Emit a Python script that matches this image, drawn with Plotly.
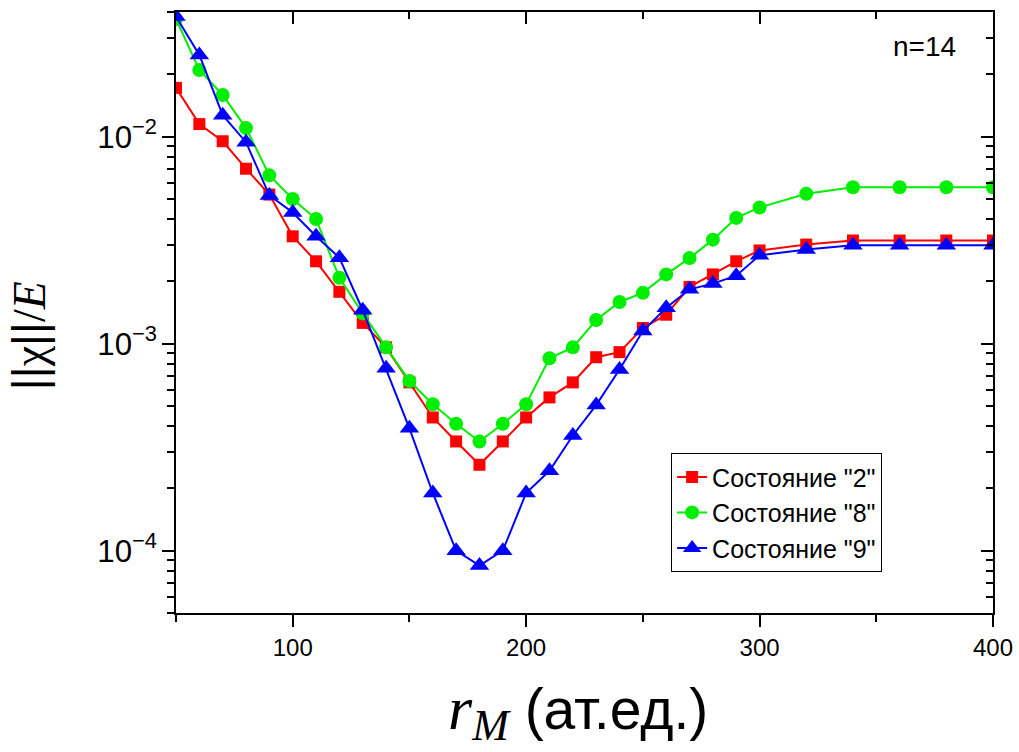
import numpy as np
import plotly.graph_objects as go

# Matching radius r_M (atomic units)
r_m = [50, 60, 70, 80, 90, 100, 110, 120, 130, 140, 150, 160, 170, 180, 190,
       200, 210, 220, 230, 240, 250, 260, 270, 280, 290, 300,
       320, 340, 360, 380, 400]

# Relative residual norm ||chi||/E for each state
state_2 = [0.0172, 0.0115, 0.0095, 0.0070, 0.00525, 0.0033, 0.0025, 0.00178, 0.00126,
           0.00096, 0.00065, 0.00044, 0.000337, 0.00026, 0.000337,
           0.00044, 0.00055, 0.00065, 0.00086, 0.00091, 0.00119, 0.00138, 0.00188,
           0.00216, 0.0025, 0.00282,
           0.00301, 0.00315, 0.00315, 0.00315, 0.00315]
state_8 = [0.037, 0.021, 0.0159, 0.0110, 0.0065, 0.0050, 0.0040, 0.00208, 0.00140,
           0.00096, 0.00066, 0.00051, 0.00041, 0.000337, 0.00041,
           0.00051, 0.00085, 0.00096, 0.0013, 0.00159, 0.00176, 0.00216, 0.00259,
           0.00318, 0.00405, 0.00455,
           0.0053, 0.0057, 0.0057, 0.0057, 0.0057]
state_9 = [0.038, 0.0248, 0.0127, 0.0094, 0.0052, 0.0043, 0.0033, 0.0026, 0.00145,
           0.00076, 0.00039, 0.00019, 0.000100, 0.0000848, 0.000100,
           0.00019, 0.000243, 0.00036, 0.000505, 0.00075, 0.00115, 0.00149, 0.00183,
           0.00195, 0.00213, 0.00267,
           0.00285, 0.00299, 0.00299, 0.00299, 0.00299]

series = [
    ('Состояние "2"', state_2, "#FF0000", "square", 12),
    ('Состояние "8"', state_8, "#00EE00", "circle", 14),
    ('Состояние "9"', state_9, "#0000FF", "triangle-up", 17),
]

x_range = [50, 400]
y_range = [5e-5, 0.04]
log_range = [float(np.log10(y_range[0])), float(np.log10(y_range[1]))]

SANS = "Liberation Sans, Arial, sans-serif"
SERIF = "Liberation Serif, Times New Roman, serif"

fig = go.Figure()
for i, (name, vals, color, symbol, size) in enumerate(series):
    fig.add_trace(go.Scatter(
        x=r_m, y=vals, name=name, mode="lines+markers",
        legendgroup=f"g{i}",
        line=dict(color=color, width=2),
        marker=dict(symbol=symbol, size=size, color=color, line=dict(width=0)),
    ))

# Invisible companion trace so the top/right frame axes (inward ticks) are rendered
fig.add_trace(go.Scatter(
    x=r_m, y=state_2, xaxis="x2", yaxis="y2", mode="markers",
    marker=dict(opacity=0), showlegend=False, hoverinfo="skip",
))

axis_common = dict(showgrid=False, zeroline=False, showline=True,
                   linecolor="black", linewidth=2, tickcolor="black")

fig.update_layout(
    width=1019, height=752,
    margin=dict(l=176, r=26, t=12, b=139, autoexpand=False),
    paper_bgcolor="white", plot_bgcolor="white",
    font=dict(family=SANS, color="black"),
    xaxis=dict(range=x_range, dtick=100, tick0=0, ticks="outside",
               ticklen=12, tickwidth=2, mirror=True,
               minor=dict(dtick=50, tick0=0, ticks="outside", ticklen=7,
                          tickwidth=2, tickcolor="black"),
               tickfont=dict(size=24, family=SANS), **axis_common),
    yaxis=dict(type="log", range=log_range, dtick=1, ticks="outside",
               ticklen=12, tickwidth=2, exponentformat="power",
               showexponent="all", mirror=True,
               minor=dict(dtick="D1", ticks="outside", ticklen=7,
                          tickwidth=2, tickcolor="black"),
               tickfont=dict(size=25, family=SANS), **axis_common),
    xaxis2=dict(overlaying="x", side="top", anchor="y", range=x_range,
                dtick=100, tick0=0, ticks="inside", ticklen=12, tickwidth=2,
                showticklabels=False,
                minor=dict(dtick=50, tick0=0, ticks="inside", ticklen=7,
                           tickwidth=2, tickcolor="black"),
                **axis_common),
    yaxis2=dict(overlaying="y", side="right", anchor="x", type="log",
                range=log_range, dtick=1, ticks="inside", ticklen=12,
                tickwidth=2, showticklabels=False,
                minor=dict(dtick="D1", ticks="inside", ticklen=7,
                           tickwidth=2, tickcolor="black"),
                **axis_common),
    legend=dict(x=0.606, y=0.266, xanchor="left", yanchor="top",
                bgcolor="white", bordercolor="black", borderwidth=1,
                font=dict(size=25, family=SANS), tracegroupgap=0),
    showlegend=True,
)

# Axis titles and panel label
fig.add_annotation(
    xref="paper", yref="paper", x=0.492, y=-0.165, xanchor="center",
    yanchor="middle", showarrow=False,
    text=('<span style="font-family:Liberation Serif;font-size:62px"><i>r</i></span>'
          '<sub><span style="font-family:Liberation Serif;font-size:44px"><i>M</i></span></sub>'
          '<span style="font-size:57px"> (ат.ед.)</span>'),
    font=dict(size=50, family=SANS),
)
fig.add_annotation(
    xref="paper", yref="paper", x=-0.18, y=0.462, xanchor="center",
    yanchor="middle", showarrow=False, textangle=-90,
    text=('<span style="font-family:Liberation Sans">||</span>χ'
          '<span style="font-family:Liberation Sans">||</span>/<i>E</i>'),
    font=dict(size=46, family=SERIF),
)
fig.add_annotation(
    xref="paper", yref="paper", x=0.957, y=0.943, xanchor="right",
    yanchor="middle", showarrow=False, text="n=14",
    font=dict(size=28, family=SANS),
)

fig.write_html("out.html")
